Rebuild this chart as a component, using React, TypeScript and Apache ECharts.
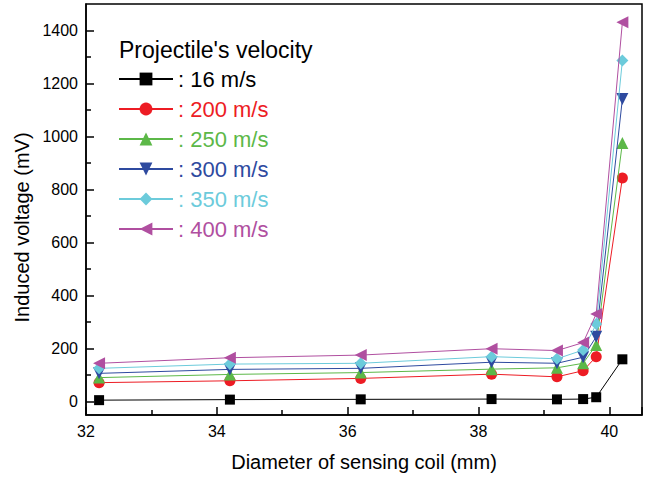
import React, { useEffect, useRef } from "react";
import * as echarts from "echarts";

const diameters = [32.2, 34.2, 36.2, 38.2, 39.2, 39.6, 39.8, 40.2];
const v16 = [6, 8, 9, 10, 9, 10, 17, 160];
const v200 = [72, 79, 88, 104, 94, 117, 170, 844];
const v250 = [91, 103, 110, 123, 128, 145, 214, 976];
const v300 = [107, 122, 126, 149, 145, 168, 245, 1142];
const v350 = [126, 142, 145, 170, 162, 195, 293, 1287];
const v400 = [145, 166, 176, 200, 193, 223, 331, 1431];

const seriesNames = [": 16 m/s", ": 200 m/s", ": 250 m/s", ": 300 m/s", ": 350 m/s", ": 400 m/s"];
const seriesValues = [v16, v200, v250, v300, v350, v400];
const seriesColors = ["#000000", "#ed1c24", "#5cb848", "#2e4a9f", "#6ccbdb", "#b04fa0"];
const seriesSymbols = ["rect", "circle", "triangle", "triangle", "diamond", "triangle"];
const seriesRotations = [0, 0, 0, 180, 0, 90];
const seriesSizes = [10, 11, 12, 12, 12, 12];

const yMajorTicks = [0, 200, 400, 600, 800, 1000, 1200, 1400];
const yMinorTicks = [100, 300, 500, 700, 900, 1100, 1300];

const legendTitle = "Projectile's velocity";
const xName = "Diameter of sensing coil (mm)";
const yName = "Induced voltage (mV)";

const FONT = "'Liberation Sans', Arial, sans-serif";

export default function App() {
  const ref = useRef<HTMLDivElement>(null);
  useEffect(() => {
    if (!ref.current) return;
    const chart = echarts.init(ref.current, null, { renderer: "svg" });
    const series = seriesNames.map((name, i) => ({
      name,
      type: "line",
      data: diameters.map((d, j) => [d, seriesValues[i][j]]),
      symbol: seriesSymbols[i],
      symbolSize: seriesSizes[i],
      symbolRotate: seriesRotations[i],
      showAllSymbol: true,
      lineStyle: { color: seriesColors[i], width: 1 },
      itemStyle: { color: seriesColors[i] },
      z: 2 + i,
    }));
    chart.setOption({
      animation: false,
      backgroundColor: "#ffffff",
      textStyle: { fontFamily: FONT },
      title: {
        text: legendTitle,
        left: 119,
        top: 38,
        padding: 0,
        textStyle: { fontFamily: FONT, fontSize: 23, fontWeight: "normal", color: "#000" },
      },
      legend: {
        orient: "vertical",
        left: 118,
        top: 68,
        padding: 0,
        itemWidth: 54,
        itemHeight: 16,
        itemGap: 8,
        data: seriesNames.map((n, i) => ({
          name: n,
          textStyle: { color: seriesColors[i] },
        })),
        textStyle: { fontFamily: FONT, fontSize: 22, lineHeight: 22 },
      },
      grid: {
        left: 86,
        right: 9,
        top: 4,
        bottom: 65,
        show: true,
        borderColor: "#000",
        borderWidth: 1.5,
        backgroundColor: "transparent",
      },
      xAxis: {
        type: "value",
        min: 32,
        max: 40.5,
        interval: 2,
        name: xName,
        nameLocation: "middle",
        nameGap: 37,
        nameTextStyle: { fontFamily: FONT, fontSize: 20, color: "#000" },
        axisLine: { show: true, onZero: false, lineStyle: { color: "#000", width: 1.5 } },
        axisTick: { show: true, inside: true, length: 8, lineStyle: { color: "#000", width: 1.5 } },
        minorTick: { show: true, splitNumber: 2, length: 5, lineStyle: { color: "#000", width: 1.5 } },
        axisLabel: {
          fontFamily: FONT,
          fontSize: 16,
          color: "#000",
          margin: 8,
          formatter: (v: number) => (Math.abs(v % 2) < 1e-9 ? String(v) : ""),
        },
        splitLine: { show: false },
      },
      yAxis: [
        {
          type: "value",
          min: -50,
          max: 1500,
          name: yName,
          nameLocation: "middle",
          nameGap: 54,
          nameTextStyle: { fontFamily: FONT, fontSize: 20, color: "#000", padding: [0, 36, 0, 0] },
          axisLine: { show: true, onZero: false, lineStyle: { color: "#000", width: 1.5 } },
          axisTick: {
            show: true,
            inside: true,
            length: 8,
            customValues: yMajorTicks,
            lineStyle: { color: "#000", width: 1.5 },
          },
          axisLabel: {
            fontFamily: FONT,
            fontSize: 16,
            color: "#000",
            margin: 8,
            customValues: yMajorTicks,
            formatter: (v: number) => String(v),
          },
          splitLine: { show: false },
        },
        {
          type: "value",
          position: "left",
          min: -50,
          max: 1500,
          axisLine: { show: false, onZero: false },
          axisTick: {
            show: true,
            inside: true,
            length: 5,
            customValues: yMinorTicks,
            lineStyle: { color: "#000", width: 1.5 },
          },
          axisLabel: { show: false },
          splitLine: { show: false },
        },
      ],
      series,
    });
    return () => chart.dispose();
  }, []);
  return <div ref={ref} style={{ width: 651, height: 480, position: "absolute", left: 0, top: 0 }} />;
}
